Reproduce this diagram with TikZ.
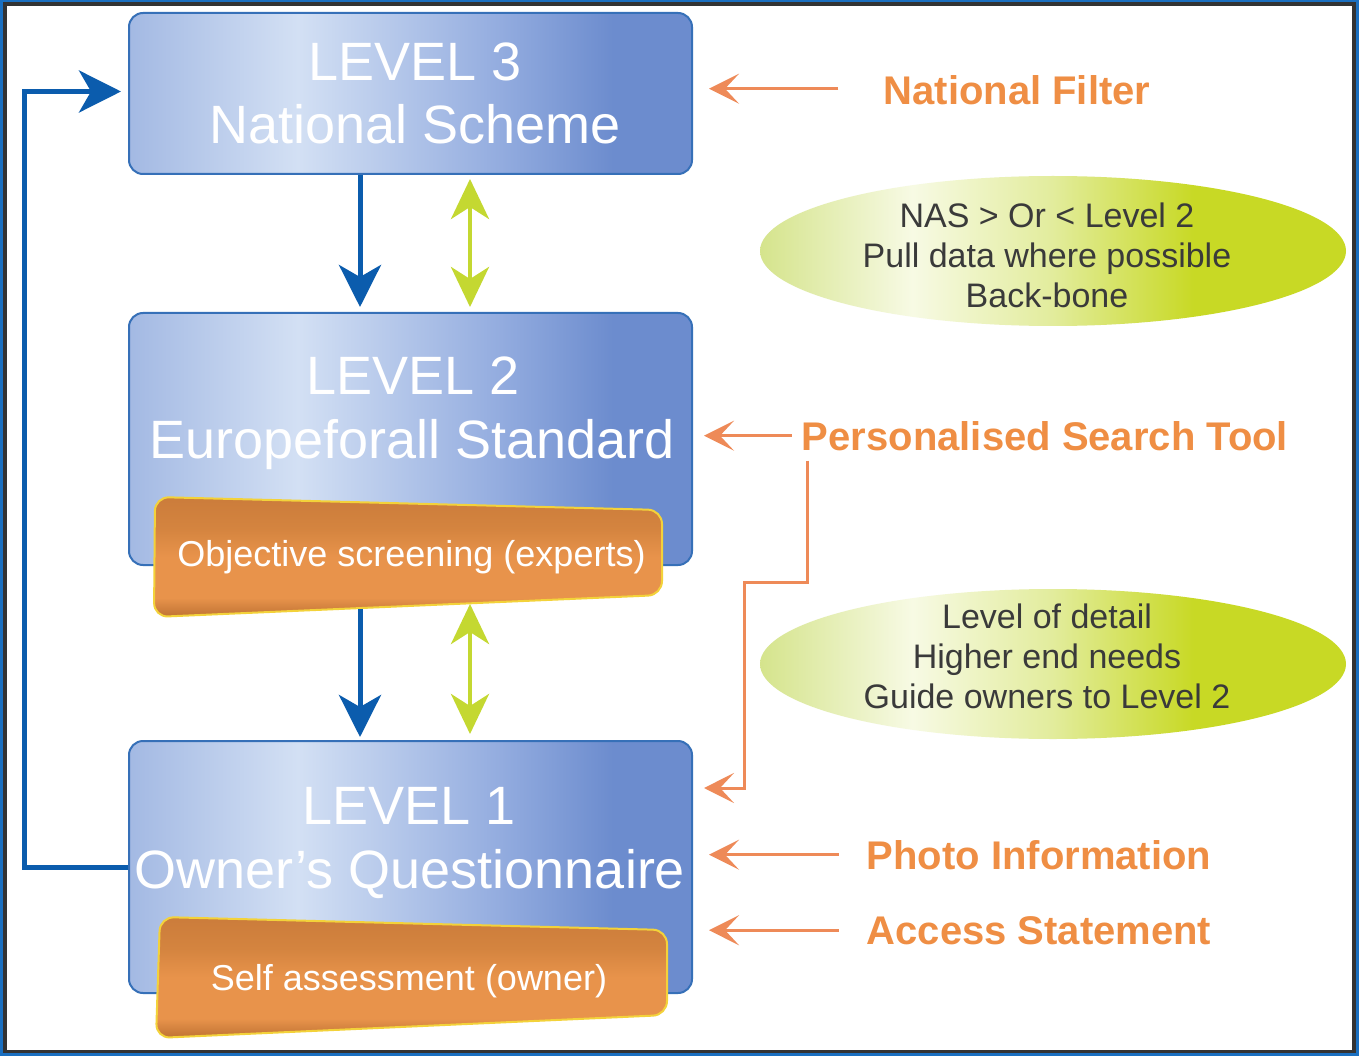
\documentclass[tikz,border=0pt]{standalone}
\usepackage{fontspec}
\setmainfont{Liberation Sans}
\usetikzlibrary{arrows.meta,shapes.geometric}
\definecolor{frameblue}{HTML}{1A6FC0}
\definecolor{framegray}{HTML}{333333}
\definecolor{bxA}{HTML}{A3B9E3}
\definecolor{bxB}{HTML}{D3E0F4}
\definecolor{bxC}{HTML}{93ACDF}
\definecolor{bxD}{HTML}{6C8CCE}
\definecolor{bxBorder}{HTML}{3670B8}
\definecolor{elA}{HTML}{D5E48C}
\definecolor{elB}{HTML}{F7FAE4}
\definecolor{elC}{HTML}{E2EC9C}
\definecolor{elD}{HTML}{C8D925}
\definecolor{tbTop}{HTML}{CB7C3B}
\definecolor{tbUp}{HTML}{D4843F}
\definecolor{tbMid}{HTML}{E8934B}
\definecolor{tbBot}{HTML}{BE7233}
\definecolor{tbBorder}{HTML}{F3D23A}
\definecolor{arrBlue}{HTML}{0B5CAD}
\definecolor{arrGreen}{HTML}{C4D831}
\definecolor{orLine}{HTML}{EE8A58}
\definecolor{orText}{HTML}{EF8E44}
\definecolor{ellText}{HTML}{3A3A3A}
\pgfdeclarehorizontalshading{boxshade}{100bp}{color(0bp)=(bxA); color(25bp)=(bxA); color(40bp)=(bxB); color(58bp)=(bxC); color(68bp)=(bxD); color(75bp)=(bxD); color(100bp)=(bxD)}
\pgfdeclarehorizontalshading{ellshade}{100bp}{color(0bp)=(elA); color(25bp)=(elA); color(38bp)=(elB); color(50bp)=(elC); color(62bp)=(elD); color(75bp)=(elD); color(100bp)=(elD)}
\pgfdeclareverticalshading{tabshade}{100bp}{color(0bp)=(tbBot); color(25bp)=(tbBot); color(33bp)=(tbMid); color(50bp)=(tbMid); color(62bp)=(tbUp); color(75bp)=(tbTop); color(100bp)=(tbTop)}
\begin{document}
\begin{tikzpicture}[x=1pt,y=-1pt,
  levelbox/.style={rectangle, rounded corners=14pt, draw=bxBorder, line width=2pt, shade, shading=boxshade, minimum width=563pt, inner sep=0pt},
  infoell/.style={ellipse, shade, shading=ellshade, minimum width=586pt, minimum height=150pt, inner sep=0pt},
  tabshape/.style={rounded corners=14pt, draw=tbBorder, line width=2pt, shade, shading=tabshade},
  lvltext/.style={text=white, font=\fontsize{54}{60}\selectfont, inner sep=0pt, anchor=base},
  tabtext/.style={text=white, font=\fontsize{36}{42}\selectfont, inner sep=0pt, anchor=base},
  ortext/.style={text=orText, font=\bfseries\fontsize{40}{48}\selectfont, inner sep=0pt, anchor=base},
  elltext/.style={text=ellText, font=\fontsize{34}{40}\selectfont, align=center, inner sep=0pt},
  bluearr/.style={draw=arrBlue, line width=5pt, -{Stealth[length=42pt, width=42pt, inset=12pt]}},
  greenarr/.style={draw=arrGreen, line width=4.5pt, {Stealth[length=40pt, width=38pt, inset=12pt]}-{Stealth[length=40pt, width=38pt, inset=12pt]}},
  orarr/.style={draw=orLine, line width=3pt, -{Stealth[length=30pt, width=30pt, inset=14pt]}}
]
\useasboundingbox (0,0) rectangle (1359,1056);
% frame
\fill[frameblue] (0,0) rectangle (1359,1056);
\fill[framegray] (2.5,2.5) rectangle (1355.5,1053);
\fill[white] (6.5,6.5) rectangle (1351.5,1049.5);

% ellipses
\node[infoell] (e1) at (1053,251) {};
\node[infoell] (e2) at (1053,664) {};
\node[elltext] (e1t) at (1047,255) {NAS > Or < Level 2\\Pull data where possible\\Back-bone};
\node[elltext] (e2t) at (1047,656) {Level of detail\\Higher end needs\\Guide owners to Level 2};

% level boxes
\node[levelbox, minimum height=161pt] (l3) at (410.5,93.5) {};
\node[levelbox, minimum height=252pt] (l2) at (410.5,439) {};
\node[levelbox, minimum height=252pt] (l1) at (410.5,867) {};

% tabs
\path[tabshape] (154.5,557) -- (155,497) -- (662,510) -- (662,595) -- (154,617) -- cycle;
\path[tabshape] (158,977) -- (160,917) -- (667,930) -- (667,1015) -- (156,1038) -- cycle;

% texts
\node[lvltext] (l3a) at (415,81) {LEVEL 3};
\node[lvltext] (l3b) at (415,144) {National Scheme};
\node[lvltext] (l2a) at (413,394) {LEVEL 2};
\node[lvltext] (l2b) at (412,458) {Europeforall Standard};
\node[lvltext] (l1a) at (409,824) {LEVEL 1};
\node[lvltext] (l1b) at (410,888) {Owner’s Questionnaire};
\node[tabtext] (t2) at (411.5,566) {Objective screening (experts)};
\node[tabtext] (t1) at (409,990) {Self assessment (owner)};

\node[ortext] (nf) at (1017,105) {National Filter};
\node[ortext] (pst) at (1045,450) {Personalised Search Tool};
\node[ortext] (pi) at (1039,869) {Photo Information};
\node[ortext] (as) at (1039,944) {Access Statement};

% helper coordinates
\coordinate (ax) at (360,0);
\coordinate (gx) at (470,0);
\coordinate (fbx) at (24,0);
\coordinate (t2b) at (360,609);
\coordinate (t2g) at (470,604);
\coordinate (b1) at (744,582);
\coordinate (b2) at (744,788);

% vertical arrows
\draw[bluearr] (l3.south -| ax) -- ([yshift=5pt]l2.north -| ax);
\draw[greenarr] ([yshift=-4pt]l3.south -| gx) -- ([yshift=5pt]l2.north -| gx);
\draw[bluearr] (t2b) -- ([yshift=3pt]l1.north -| ax);
\draw[greenarr] (t2g) -- ([yshift=6pt]l1.north -| gx);

% feedback arrow
\draw[bluearr] (l1.west) -- (l1.west -| fbx) -- ([yshift=2pt]l3.west -| fbx) -- ([shift={(-7pt,2pt)}]l3.west);

% orange arrows
\draw[orarr] ([xshift=-45pt,yshift=2pt]nf.west) -- ([xshift=16pt,yshift=2pt]nf.west -| l3.east);
\draw[orarr] ([xshift=-10pt]pst.west) -- ([xshift=11pt]pst.west -| l2.east);
\draw[orarr] ([shift={(6pt,-10pt)}]pst.south west) |- (b1) -- (b2) -- ([xshift=11pt]l1.east |- b2);
\draw[orarr] ([xshift=-28pt]pi.west) -- ([xshift=16pt]pi.west -| l1.east);
\draw[orarr] ([xshift=-28pt]as.west) -- ([xshift=16pt]as.west -| l1.east);
\end{tikzpicture}
\end{document}
